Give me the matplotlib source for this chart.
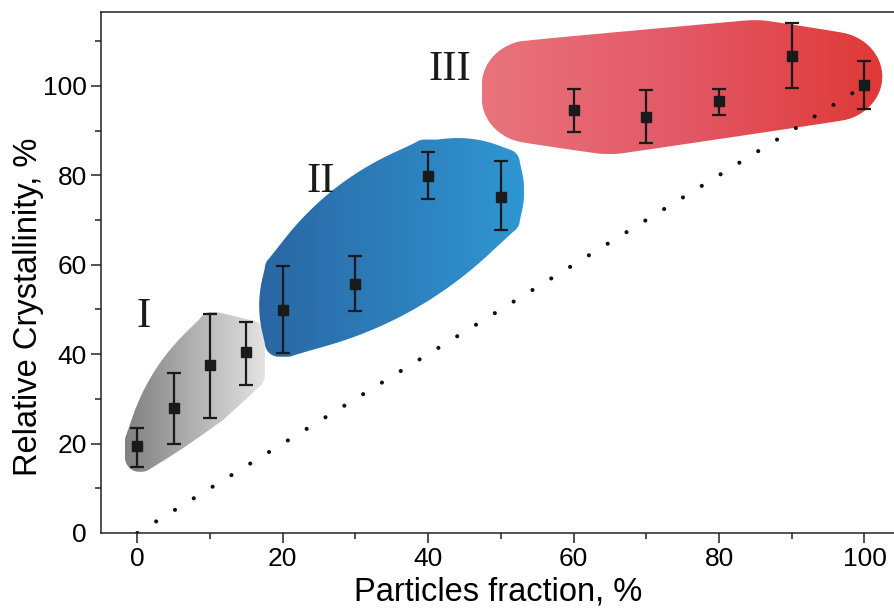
import numpy as np
import matplotlib
matplotlib.use("Agg")
import matplotlib.pyplot as plt
from matplotlib.colors import LinearSegmentedColormap
from matplotlib.patches import PathPatch
from matplotlib.path import Path

# group I
x1 = [0, 5, 10, 15]
y1 = [19.4, 27.9, 37.6, 40.4]
lo1 = [14.8, 19.9, 25.7, 33.1]
hi1 = [23.4, 35.7, 49.0, 47.1]

# group II
x2 = [20, 30, 40, 50]
y2 = [49.9, 55.6, 79.9, 75.2]
lo2 = [40.3, 49.7, 74.6, 67.8]
hi2 = [59.6, 62.0, 85.3, 83.2]

# group III
x3 = [60, 70, 80, 90, 100]
y3 = [94.6, 93.1, 96.5, 106.7, 100.1]
lo3 = [89.6, 87.2, 93.5, 99.6, 94.8]
hi3 = [99.3, 99.1, 99.3, 114.0, 105.5]

# additive rule line
ref_x = [0, 100]
ref_y = [0, 100]

x_ticks = [0, 20, 40, 60, 80, 100]
y_ticks = [0, 20, 40, 60, 80, 100]
group_names = ['I', 'II', 'III']

plt.rcParams['font.family'] = ['Liberation Sans', 'DejaVu Sans']


def convex_hull(pts):
    pts = sorted(set(map(tuple, np.round(pts, 3))))

    def cross(o, a, b):
        return (a[0] - o[0]) * (b[1] - o[1]) - (a[1] - o[1]) * (b[0] - o[0])

    lower, upper = [], []
    for p in pts:
        while len(lower) >= 2 and cross(lower[-2], lower[-1], p) <= 0:
            lower.pop()
        lower.append(p)
    for p in reversed(pts):
        while len(upper) >= 2 and cross(upper[-2], upper[-1], p) <= 0:
            upper.pop()
        upper.append(p)
    return np.array(lower[:-1] + upper[:-1])


def add_bulge(poly, k):
    out = []
    n = len(poly)
    for i in range(n):
        a, b = poly[i], poly[(i + 1) % n]
        d = b - a
        L = np.hypot(*d)
        out.append(a)
        if L > 50 and k > 0:
            nrm = np.array([d[1], -d[0]]) / L
            for t in (0.25, 0.5, 0.75):
                out.append(a + d * t + nrm * k * L * 4 * t * (1 - t))
    return np.array(out)


def chaikin(poly, n=3):
    for _ in range(n):
        nxt = np.roll(poly, -1, axis=0)
        q = 0.75 * poly + 0.25 * nxt
        r = 0.25 * poly + 0.75 * nxt
        poly = np.empty((2 * len(poly), 2))
        poly[0::2] = q
        poly[1::2] = r
    return poly


def blob(ax, xs, lo, hi, pads, radii, flat, k, colors):
    # rounded hull around the error bars of one group (all sizes in pixels)
    pl, pr, pb, pt = pads
    rx, ry = radii
    top = max(hi)
    ang = np.linspace(0, 2 * np.pi, 36, endpoint=False)
    pts = []
    for x, l, h in zip(xs, lo, hi):
        h = h + flat * (top - h)
        (X, YL), (_, YH) = ax.transData.transform([(x, l), (x, h)])
        y_top = YH + pt
        y_bot = min(YL - pb, y_top)
        for XX in (X - pl, X + pr):
            for YY in (y_bot, y_top):
                pts.extend(np.c_[XX + rx * np.cos(ang), YY + ry * np.sin(ang)])
    poly = chaikin(add_bulge(convex_hull(np.array(pts)), k))
    verts = ax.transData.inverted().transform(poly)
    verts = np.vstack([verts, verts[:1]])
    patch = PathPatch(Path(verts, closed=True), fc='none', ec='none', transform=ax.transData)
    ax.add_patch(patch)
    cmap = LinearSegmentedColormap.from_list('g', colors)
    grad = np.linspace(0, 1, 256).reshape(1, -1)
    im = ax.imshow(grad, cmap=cmap, aspect='auto', origin='lower', zorder=1,
                   extent=[verts[:, 0].min(), verts[:, 0].max(), verts[:, 1].min(), verts[:, 1].max()])
    im.set_clip_path(patch)


fig = plt.figure(figsize=(8.95, 6.09), dpi=100)
ax = fig.add_axes([101 / 895, 76 / 609, 794 / 895, 521 / 609])
ax.set_xlim(-5.0, 104.2)
ax.set_ylim(0, 116.5)
ax.set_autoscale_on(False)

blob(ax, x1, lo1, hi1, (-1.5, 4.5, -10, -13), (14, 15), 0.0, 0.08, ['#808080', '#e4e4e4'])
blob(ax, x2, lo2, hi2, (4, 5, -10, -2), (14, 14), 0.0, 0.08, ['#2a66a4', '#2f97d2'])
blob(ax, x3, lo3, hi3, (42, -32, -34, -42), (50, 45), 0.7, 0.0, ['#e9747b', '#e35866', '#df3936'])

ax.plot(ref_x, ref_y, color='#111111', lw=3.0, linestyle=(0, (0.001, 5.3)),
        dash_capstyle='round', zorder=3)

for xs, ys, lo, hi in [(x1, y1, lo1, hi1), (x2, y2, lo2, hi2), (x3, y3, lo3, hi3)]:
    ys = np.array(ys)
    err = [ys - np.array(lo), np.array(hi) - ys]
    ax.errorbar(xs, ys, yerr=err, fmt='s', color='#1a1a1a', ms=7.5, capsize=5,
                elinewidth=1.6, capthick=1.6, zorder=4)

for name, (tx, ty) in zip(group_names, [(0.8, 48.3), (25.2, 78.5), (43, 103.6)]):
    ax.text(tx, ty, name, family='Liberation Serif', fontsize=31, ha='center', va='center',
            color='#1a1a1a', zorder=5)

ax.spines['right'].set_visible(False)
for s in ['left', 'bottom', 'top']:
    ax.spines[s].set_linewidth(1.1)
    ax.spines[s].set_color('#222222')

ax.set_xticks(x_ticks)
ax.set_yticks(y_ticks)
ax.set_xticks(np.arange(10, 100, 20), minor=True)
ax.set_yticks(np.arange(10, 116, 20), minor=True)
ax.tick_params(which='major', length=7, width=1.1, labelsize=19, pad=3, color='#222222')
ax.tick_params(which='minor', length=4, width=1.1, color='#222222')
ax.yaxis.get_major_ticks()[0].tick1line.set_visible(False)

ax.set_xlabel('Particles fraction, %', fontsize=23.5, labelpad=4)
ax.set_ylabel('Relative Crystallinity, %', fontsize=23.5)
ax.yaxis.set_label_coords(-0.072, 0.435)

fig.savefig('out.png', dpi=100)
